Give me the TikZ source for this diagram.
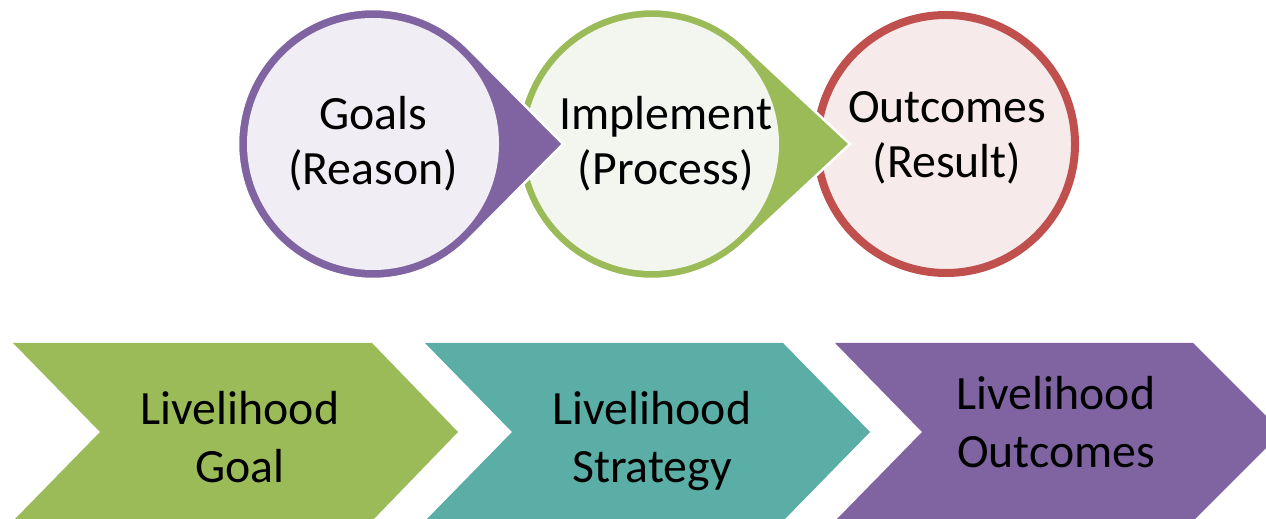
\documentclass[tikz,border=0pt]{standalone}
\usepackage{fontspec}
\setmainfont{Carlito}
\definecolor{cpurple}{HTML}{8064A2}
\definecolor{cgreen}{HTML}{9BBB59}
\definecolor{cred}{HTML}{C0504D}
\definecolor{cteal}{HTML}{5BAEA5}
\definecolor{tpurple}{HTML}{F0EDF4}
\definecolor{tgreen}{HTML}{F3F6EE}
\definecolor{tred}{HTML}{F7EAEA}
\begin{document}
\begin{tikzpicture}[x=0.02cm,y=-0.02cm,
  % base anchor sits on the baseline of the last line
  circtext/.style={font=\fontsize{27.2}{31.5}\selectfont, align=center, anchor=base, inner sep=0pt},
  chevtext/.style={font=\fontsize{27.2}{32.5}\selectfont, align=center, anchor=base, inner sep=0pt},
  tearshape/.style={draw=white, line width=0.05cm},
  ring/.style={line width=0.16cm}]
\useasboundingbox (0,0) rectangle (1266,519);

% lower row: three chevrons
\fill[cgreen]  (13,343) -- (372,343) -- (458,432) -- (372,521) -- (13,521) -- (100,432) -- cycle;
\fill[cteal]   (425,343) -- (783,343) -- (870,432) -- (783,521) -- (425,521) -- (512,432) -- cycle;
\fill[cpurple] (835,343) -- (1193,343) -- (1282,432) -- (1193,521) -- (835,521) -- (922,432) -- cycle;

\node[chevtext] (goal)     at (240,482)  {Livelihood\\Goal};
\node[chevtext] (strategy) at (652,482)  {Livelihood\\Strategy};
\node[chevtext] (outcome)  at (1056,467) {Livelihood\\Outcomes};

% upper row: red circle at the back
\draw[ring, cred, fill=tred] (946,144) circle[radius=129];

% green teardrop pointing at the red circle
\fill[cgreen, tearshape] (850,144) -- ([shift={(652,144)}]47.4:135)
  arc[start angle=47.4, end angle=312.6, radius=135] -- cycle;
\fill[tgreen] (652,144) circle[radius=127];

% purple teardrop pointing at the green circle
\fill[cpurple, tearshape] (563,144) -- ([shift={(373,144)}]45.2:135)
  arc[start angle=45.2, end angle=314.8, radius=135] -- cycle;
\fill[tpurple] (373,144) circle[radius=126];

\node[circtext] (reason)  at (373,185) {Goals\\(Reason)};
\node[circtext] (process) at (666,185) {Implement\\(Process)};
\node[circtext] (result)  at (947,178) {Outcomes\\(Result)};
\end{tikzpicture}
\end{document}
